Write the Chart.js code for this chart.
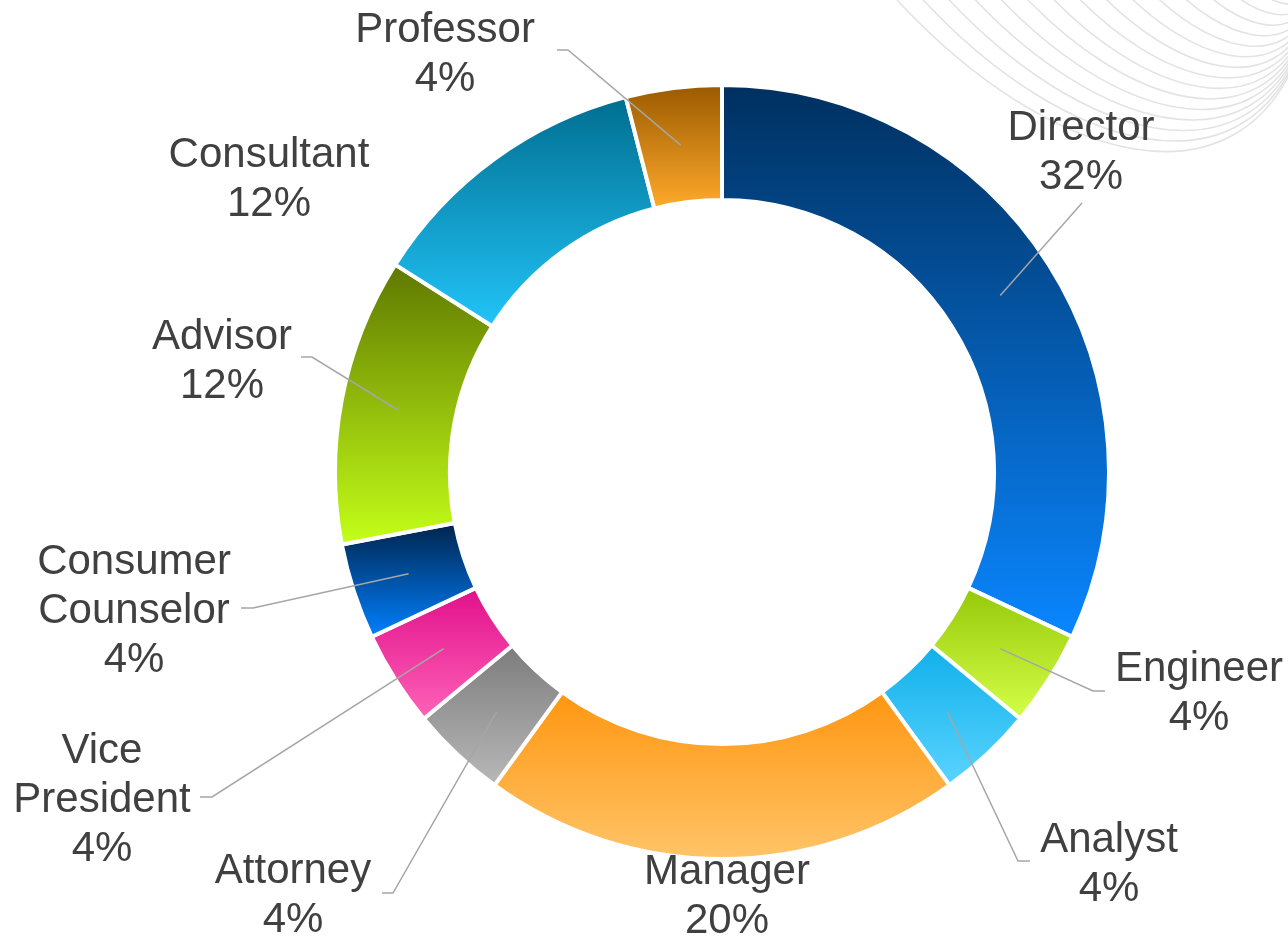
<!DOCTYPE html>
<html lang="en">
<head>
<meta charset="UTF-8" />
<title>Job Titles</title>
<script src="https://cdn.jsdelivr.net/npm/chart.js"></script>
<style>
  html, body { margin: 0; padding: 0; background: #fff; }
  #wrap { width: 1288px; height: 940px; }
</style>
</head>
<body>
<div id="wrap"><canvas id="chart" width="1288" height="940"></canvas></div>
<script>
  // data, clockwise from 12 o'clock
  const titles = ['Director', 'Engineer', 'Analyst', 'Manager', 'Attorney',
                  'Vice President', 'Consumer Counselor', 'Advisor', 'Consultant', 'Professor'];
  const shares = [32, 4, 4, 20, 4, 4, 4, 12, 12, 4];

  // gradient ends for every slice (top -> bottom)
  const topColors    = ['#00305f', '#96c80a', '#10b0ea', '#ff9610', '#7c7c7c',
                        '#e0108a', '#00244c', '#5f7800', '#006e90', '#9a5a00'];
  const bottomColors = ['#0a86ff', '#d4ff48', '#5ad4ff', '#ffc468', '#b8b8b8',
                        '#ff62b8', '#0080ff', '#c4ff18', '#22c4f8', '#ffaa2a'];

  // where each label sits (centre x, first baseline) and its leader line tail
  const labelLayout = [
    { x: 1081, y: 140, end: [1082, 203] },
    { x: 1199, y: 681, elbow: [1093, 691], end: [1105, 691] },
    { x: 1109, y: 852, elbow: [1018, 861], end: [1030, 861] },
    { x: 727,  y: 884 },
    { x: 293,  y: 883, elbow: [393, 893], end: [382, 893] },
    { x: 102,  y: 763, elbow: [212, 797], end: [200, 797] },
    { x: 134,  y: 574, elbow: [253, 608], end: [241, 608] },
    { x: 222,  y: 349, elbow: [312, 357], end: [301, 357] },
    { x: 269,  y: 167 },
    { x: 445,  y: 42,  elbow: [568, 50], end: [557, 50] }
  ];

  const BORDER = 4;
  const CUTOUT = 0.703;
  const LINE_H = 49;

  // vertical gradient over the bounding box of one slice
  function sliceGradient(ctx) {
    const chart = ctx.chart;
    const area = chart.chartArea;
    const i = ctx.dataIndex;
    if (!area || i === undefined) return topColors[i] || '#999';
    const cx = (area.left + area.right) / 2;
    const cy = (area.top + area.bottom) / 2;
    const outer = (Math.min(area.width, area.height) - BORDER) / 2;
    const inner = outer * CUTOUT;
    const total = shares.reduce((a, b) => a + b, 0);
    const before = shares.slice(0, i).reduce((a, b) => a + b, 0);
    const a0 = -Math.PI / 2 + 2 * Math.PI * before / total;
    const a1 = a0 + 2 * Math.PI * shares[i] / total;
    let yMin = Infinity, yMax = -Infinity;
    for (let k = 0; k <= 60; k++) {
      const a = a0 + (a1 - a0) * k / 60;
      for (const r of [inner, outer]) {
        const y = cy + r * Math.sin(a);
        yMin = Math.min(yMin, y);
        yMax = Math.max(yMax, y);
      }
    }
    const g = chart.ctx.createLinearGradient(0, yMin, 0, yMax);
    g.addColorStop(0, topColors[i]);
    g.addColorStop(1, bottomColors[i]);
    return g;
  }

  // faint swoosh in the top right corner: one curve, shrunk towards a corner point
  const swoosh = {
    id: 'swoosh',
    beforeDraw(chart) {
      const ctx = chart.ctx;
      const base = [[897, 0], [1050, 165], [1240, 215], [1300, 50]];
      const anchor = [1320, -30];
      ctx.save();
      ctx.strokeStyle = '#e3e3e3';
      ctx.lineWidth = 1.6;
      for (let k = 0; k < 15; k++) {
        const s = 1 - 0.058 * k;
        const p = base.map(([x, y]) => [anchor[0] + s * (x - anchor[0]), anchor[1] + s * (y - anchor[1])]);
        ctx.beginPath();
        ctx.moveTo(p[0][0], p[0][1]);
        ctx.bezierCurveTo(p[1][0], p[1][1], p[2][0], p[2][1], p[3][0], p[3][1]);
        ctx.stroke();
      }
      ctx.restore();
    }
  };

  // labels with leader lines
  const sliceLabels = {
    id: 'sliceLabels',
    afterDatasetsDraw(chart) {
      const ctx = chart.ctx;
      const arcs = chart.getDatasetMeta(0).data;
      ctx.save();
      arcs.forEach((arc, i) => {
        const pos = labelLayout[i];
        if (pos.end) {
          const mid = (arc.startAngle + arc.endAngle) / 2;
          const r = (arc.innerRadius + arc.outerRadius) / 2;
          ctx.beginPath();
          ctx.moveTo(arc.x + r * Math.cos(mid), arc.y + r * Math.sin(mid));
          if (pos.elbow) ctx.lineTo(pos.elbow[0], pos.elbow[1]);
          ctx.lineTo(pos.end[0], pos.end[1]);
          ctx.strokeStyle = '#a6a6a6';
          ctx.lineWidth = 1.5;
          ctx.stroke();
        }
      });
      ctx.font = '42px "Liberation Sans", Arial, sans-serif';
      ctx.fillStyle = '#404040';
      ctx.textAlign = 'center';
      ctx.textBaseline = 'alphabetic';
      titles.forEach((t, i) => {
        const pos = labelLayout[i];
        const lines = t.split(' ').concat([shares[i] + '%']);
        lines.forEach((ln, k) => ctx.fillText(ln, pos.x, pos.y + k * LINE_H));
      });
      ctx.restore();
    }
  };

  new Chart(document.getElementById('chart'), {
    type: 'doughnut',
    data: {
      labels: titles,
      datasets: [{
        data: shares,
        backgroundColor: sliceGradient,
        borderColor: '#ffffff',
        borderWidth: BORDER,
        hoverBorderWidth: BORDER,
        hoverOffset: 0
      }]
    },
    options: {
      responsive: false,
      devicePixelRatio: 1,
      animation: false,
      cutout: (CUTOUT * 100) + '%',
      layout: { padding: { left: 333, right: 177, top: 83, bottom: 79 } },
      plugins: {
        legend: { display: false },
        tooltip: { enabled: false }
      }
    },
    plugins: [swoosh, sliceLabels]
  });
</script>
</body>
</html>
